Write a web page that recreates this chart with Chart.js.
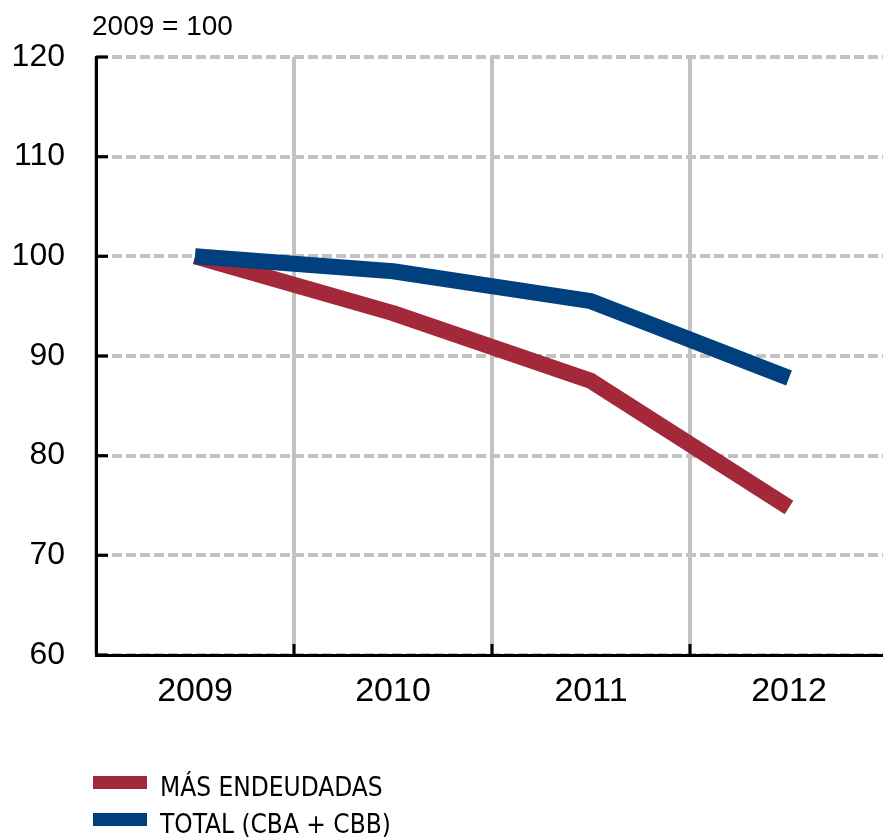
<!DOCTYPE html>
<html>
<head>
<meta charset="utf-8">
<script src="https://cdn.jsdelivr.net/npm/chart.js@4/dist/chart.umd.min.js"></script>
<style>
  html, body { margin: 0; padding: 0; background: #fff; overflow: hidden; }
  #wrap { width: 890px; height: 838px; position: relative; }
  canvas { display: block; }
</style>
</head>
<body>
<div id="wrap"><canvas id="c" width="890" height="838"></canvas></div>
<script>
const categories = ['2009', '2010', '2011', '2012'];
const masEndeudadas = [100, 94.3, 87.5, 74.8];
const totalCbaCbb = [100, 98.5, 95.5, 87.8];
const seriesNames = ['MÁS ENDEUDADAS', 'TOTAL (CBA + CBB)'];
const yTicks = [60, 70, 80, 90, 100, 110, 120];
const unitNote = '2009 = 100';

const RED = '#a3293a';
const BLUE = '#00407f';
const GRID = '#c2c2c2';
const FONT = "'Liberation Sans', Arial, Helvetica, sans-serif";
const NARROW = "'Liberation Sans Narrow', 'Arial Narrow', 'DejaVu Sans Condensed', sans-serif";

const extras = {
  id: 'extras',
  afterDraw(chart) {
    const ctx = chart.ctx;
    const ca = chart.chartArea;
    const x = chart.scales.x, y = chart.scales.y;
    ctx.save();
    ctx.strokeStyle = '#000';
    ctx.lineWidth = 3;
    yTicks.forEach(v => {
      const py = y.getPixelForValue(v);
      ctx.beginPath();
      ctx.moveTo(ca.left, py);
      ctx.lineTo(ca.left + 12, py);
      ctx.stroke();
    });
    for (let i = 1; i < categories.length; i++) {
      const px = (x.getPixelForValue(i - 1) + x.getPixelForValue(i)) / 2;
      ctx.beginPath();
      ctx.moveTo(px, ca.bottom);
      ctx.lineTo(px, ca.bottom - 11);
      ctx.stroke();
    }
    ctx.fillStyle = '#000';
    ctx.font = '28px ' + FONT;
    ctx.textBaseline = 'alphabetic';
    ctx.textAlign = 'left';
    ctx.fillText(unitNote, 92, 35);
    ctx.font = '26px ' + NARROW;
    chart.data.datasets.forEach((ds, i) => {
      const top = 776 + i * 37;
      ctx.fillStyle = ds.borderColor;
      ctx.fillRect(93, top, 54, 13);
      ctx.fillStyle = '#000';
      ctx.fillText(ds.label, 160, top + 20);
    });
    ctx.restore();
  }
};

new Chart(document.getElementById('c'), {
  type: 'line',
  data: {
    labels: categories,
    datasets: [
      { label: seriesNames[0], data: masEndeudadas, borderColor: RED, backgroundColor: RED,
        borderWidth: 16, pointRadius: 0, borderCapStyle: 'butt', borderJoinStyle: 'round', order: 2, tension: 0 },
      { label: seriesNames[1], data: totalCbaCbb, borderColor: BLUE, backgroundColor: BLUE,
        borderWidth: 16, pointRadius: 0, borderCapStyle: 'butt', borderJoinStyle: 'round', order: 1, tension: 0 }
    ]
  },
  options: {
    responsive: false,
    animation: false,
    devicePixelRatio: 1,
    layout: { padding: { top: 57, right: 2, bottom: 0, left: 0 } },
    plugins: { legend: { display: false }, tooltip: { enabled: false }, title: { display: false } },
    scales: {
      x: {
        type: 'category',
        offset: true,
        grid: { offset: true, color: GRID, lineWidth: 4, drawTicks: false },
        border: { display: true, color: '#000', width: 3 },
        ticks: { color: '#000', font: { family: FONT, size: 34 }, padding: 16, maxRotation: 0, autoSkip: false },
        afterFit(s) { s.height = 183; }
      },
      y: {
        type: 'linear',
        min: yTicks[0], max: yTicks[yTicks.length - 1],
        grid: { color: GRID, lineWidth: 4, drawTicks: false },
        border: { display: true, color: '#000', width: 3, dash: [10, 4] },
        ticks: { color: '#000', font: { family: FONT, size: 32 }, padding: 31, stepSize: 10 },
        afterFit(s) { s.width = 96; }
      }
    }
  },
  plugins: [extras]
});
</script>
</body>
</html>
